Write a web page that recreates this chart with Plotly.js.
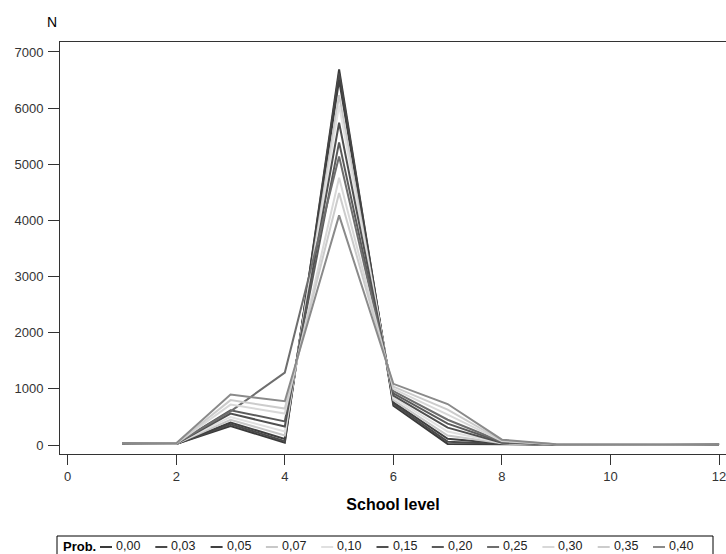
<!DOCTYPE html>
<html>
<head>
<meta charset="utf-8">
<script src="https://cdn.plot.ly/plotly-3.0.1.min.js"></script>
<style>
  html, body { margin: 0; padding: 0; background: #fff; }
  #chart { width: 726px; height: 554px; }
</style>
</head>
<body>
<div id="chart"></div>
<script>
// ---- data ----
const schoolLevels = [1, 2, 3, 4, 5, 6, 7, 8, 9, 10, 11, 12];
const probLabels = ['0,00', '0,03', '0,05', '0,07', '0,10', '0,15', '0,20', '0,25', '0,30', '0,35', '0,40'];
const p000 = [22, 18, 340, 40, 6690, 700, 20, 15, 5, 3, 2, 10];
const p003 = [24, 20, 370, 70, 6620, 730, 60, 20, 6, 4, 3, 10];
const p005 = [25, 21, 400, 110, 6500, 760, 110, 25, 7, 5, 4, 12];
const p007 = [27, 22, 450, 170, 6230, 800, 170, 30, 8, 6, 5, 12];
const p010 = [28, 23, 500, 240, 6050, 840, 240, 35, 9, 6, 5, 14];
const p015 = [30, 24, 560, 330, 5740, 880, 310, 42, 10, 7, 6, 14];
const p020 = [31, 25, 620, 420, 5390, 920, 380, 50, 11, 8, 7, 16];
const p025 = [32, 26, 600, 1290, 5140, 960, 450, 60, 12, 9, 8, 16];
const p030 = [34, 27, 720, 560, 4760, 1000, 540, 70, 13, 10, 9, 18];
const p035 = [35, 28, 800, 650, 4490, 1040, 630, 80, 14, 11, 10, 18];
const p040 = [37, 30, 900, 780, 4090, 1090, 730, 95, 15, 12, 11, 20];
const seriesValues = [p000, p003, p005, p007, p010, p015, p020, p025, p030, p035, p040];
const seriesColors = ['#3a3a3a', '#4a4a4a', '#404040', '#c8c8c8', '#e0e0e0', '#505050', '#5a5a5a', '#6e6e6e', '#d8d8d8', '#cccccc', '#8a8a8a'];

// ---- layout geometry ----
const W = 726, H = 554;
const M = { l: 60, r: 0, t: 42, b: 100 };
const PW = W - M.l - M.r, PH = H - M.t - M.b;
const px2x = px => (px - M.l) / PW;
const py2y = py => (H - M.b - py) / PH;

const FONT = 'Liberation Sans, Arial, sans-serif';

const traces = seriesValues.map((vals, i) => ({
  type: 'scatter',
  mode: 'lines',
  x: schoolLevels,
  y: vals,
  name: probLabels[i],
  line: { color: seriesColors[i], width: 2 },
  showlegend: false
}));

// custom legend (short dashes like the reference)
const LEG_Y = 546;
const shapes = [{
  type: 'rect', xref: 'paper', yref: 'paper',
  x0: px2x(57), x1: px2x(713), y0: py2y(562), y1: py2y(536),
  line: { color: '#000', width: 1 }, fillcolor: 'rgba(0,0,0,0)'
}];
const annotations = [
  { xref: 'paper', yref: 'paper', x: px2x(52), y: py2y(22), text: 'N', showarrow: false,
    xanchor: 'center', yanchor: 'middle', font: { family: FONT, size: 14, color: '#000' } },
  { xref: 'paper', yref: 'paper', x: px2x(61), y: py2y(LEG_Y), text: '<b>Prob.</b>', showarrow: false,
    xanchor: 'left', yanchor: 'middle', font: { family: FONT, size: 13, color: '#000' } }
];
const step = 55.3;
probLabels.forEach((lab, i) => {
  const x0 = 100 + i * step;
  shapes.push({
    type: 'line', xref: 'paper', yref: 'paper',
    x0: px2x(x0), x1: px2x(x0 + 12), y0: py2y(LEG_Y + 1), y1: py2y(LEG_Y + 1),
    line: { color: seriesColors[i], width: 2 }
  });
  annotations.push({
    xref: 'paper', yref: 'paper', x: px2x(x0 + 14), y: py2y(LEG_Y), text: lab, showarrow: false,
    xanchor: 'left', yanchor: 'middle', font: { family: FONT, size: 12.5, color: '#222' }
  });
});

const layout = {
  width: W, height: H,
  margin: M,
  paper_bgcolor: '#fff', plot_bgcolor: '#fff',
  showlegend: false,
  font: { family: FONT, size: 13, color: '#222' },
  xaxis: {
    range: [-0.142, 12.128],
    tickvals: [0, 2, 4, 6, 8, 10, 12],
    ticks: 'outside', ticklen: 10, tickcolor: '#333', tickwidth: 1,
    ticklabeloverflow: 'allow',
    showline: true, linecolor: '#333', linewidth: 1, mirror: true,
    showgrid: false, zeroline: false,
    tickfont: { family: FONT, size: 13, color: '#333' },
    title: { text: '<b>School level</b>', font: { family: FONT, size: 16, color: '#000' }, standoff: 16 }
  },
  yaxis: {
    range: [-160, 7178],
    tickvals: [0, 1000, 2000, 3000, 4000, 5000, 6000, 7000],
    ticks: 'outside', ticklen: 11, tickcolor: '#333', tickwidth: 1,
    ticklabelstandoff: 2,
    showline: true, linecolor: '#333', linewidth: 1,
    showgrid: false, zeroline: false,
    tickfont: { family: FONT, size: 13, color: '#333' }
  },
  shapes: shapes,
  annotations: annotations
};

Plotly.newPlot('chart', traces, layout, { displayModeBar: false, staticPlot: true });
</script>
</body>
</html>
